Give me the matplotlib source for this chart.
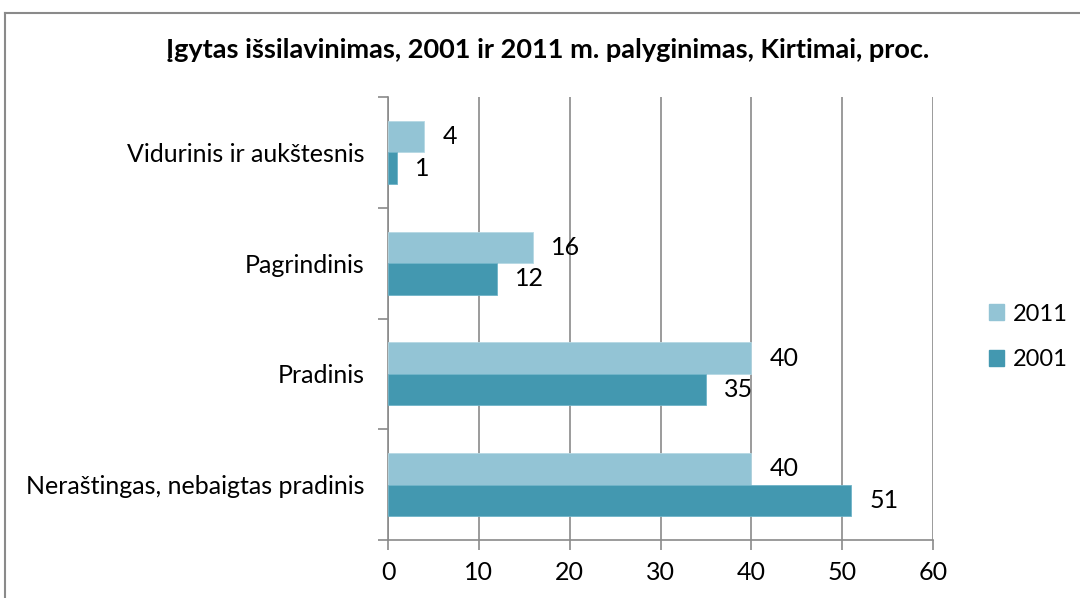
import matplotlib
matplotlib.use("Agg")
import matplotlib.pyplot as plt
from matplotlib.lines import Line2D
from matplotlib.patches import Patch
import numpy as np

categories = ["Neraštingas, nebaigtas pradinis", "Pradinis", "Pagrindinis", "Vidurinis ir aukštesnis"]
values_2011 = [40, 40, 16, 4]
values_2001 = [51, 35, 12, 1]
series_names = ["2011", "2001"]
x_ticks = [0, 10, 20, 30, 40, 50, 60]
title = "Įgytas išsilavinimas, 2001 ir 2011 m. palyginimas, Kirtimai, proc."

c2011 = "#93c4d5"
c2001 = "#4398b0"
grey = "#8a8a8a"

plt.rcParams['font.family'] = ['Lato', 'DejaVu Sans']

fig = plt.figure(figsize=(10.8, 5.98), dpi=100)
ax = fig.add_axes([388/1080, 1 - 540/598, (933-388)/1080, (540-97)/598])

y = np.arange(len(categories))
h = 0.285
b1 = ax.barh(y + h/2, values_2011, height=h, color=c2011, edgecolor="#b5d8e4", linewidth=0.6, zorder=3)
b2 = ax.barh(y - h/2, values_2001, height=h, color=c2001, edgecolor="#6fb4c8", linewidth=0.6, zorder=3)

for bars, vals in ((b1, values_2011), (b2, values_2001)):
    for rect, v in zip(bars, vals):
        ax.annotate(f"{v}", (rect.get_width(), rect.get_y() + rect.get_height()/2),
                    xytext=(13, 0), textcoords="offset points", va="center", ha="left",
                    fontsize=18, color="black")

ax.set_xlim(0, 60)
ax.set_ylim(-0.5, len(categories) - 0.5)
ax.set_xticks(x_ticks)
ax.set_xticklabels([str(t) for t in x_ticks], fontsize=18)
ax.xaxis.grid(True, color=grey, linewidth=1.2, zorder=0)
ax.set_axisbelow(True)

ax.set_yticks(y)
ax.set_yticklabels(categories, fontsize=18)
ax.tick_params(axis="y", length=0, pad=17)
ax.set_yticks(np.arange(-0.5, len(categories), 1), minor=True)
ax.tick_params(axis="y", which="minor", length=7, width=1.2, color=grey, direction="out")
ax.tick_params(axis="x", length=7, width=1.2, color=grey, direction="out", pad=8)

for s in ("top", "right"):
    ax.spines[s].set_visible(False)
for s in ("left", "bottom"):
    ax.spines[s].set_color(grey)
    ax.spines[s].set_linewidth(1.2)

fig.text(548/1080, 1 - 50/598, title, ha="center", va="center", fontsize=19.5, fontweight="bold")

handles = [Patch(facecolor=c2011, edgecolor=c2011), Patch(facecolor=c2001, edgecolor=c2001)]
fig.legend(handles, series_names, loc="center left", bbox_to_anchor=(989/1080, 1 - 337/598),
           frameon=False, fontsize=17, handlelength=0.65, handleheight=0.65, handletextpad=0.35,
           labelspacing=1.05, borderpad=0, borderaxespad=0)

# chart border
fig.add_artist(Line2D([5/1080, 5/1080], [0, 1 - 13/598], color=grey, linewidth=1.5, transform=fig.transFigure))
fig.add_artist(Line2D([5/1080, 1], [1 - 13/598, 1 - 13/598], color=grey, linewidth=1.5, transform=fig.transFigure))

fig.savefig("out.png", dpi=100)
